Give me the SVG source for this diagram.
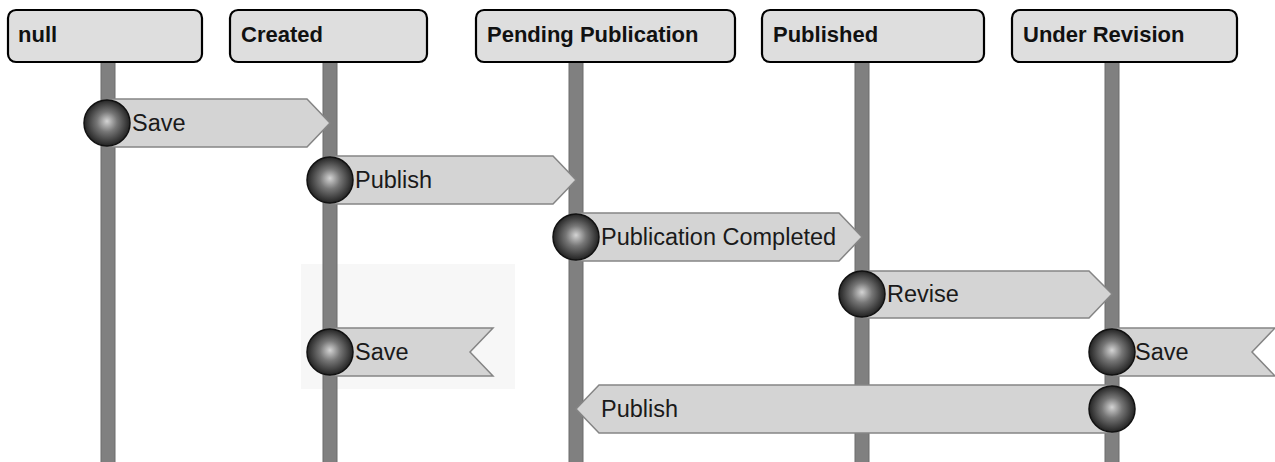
<svg xmlns="http://www.w3.org/2000/svg" width="1275" height="462" viewBox="0 0 1275 462">
<defs>
<radialGradient id="ballGrad" cx="0.5" cy="0.5" r="0.55" fx="0.5" fy="0.46">
<stop offset="0" stop-color="#d4d4d4"/>
<stop offset="0.4" stop-color="#767676"/>
<stop offset="1" stop-color="#151515"/>
</radialGradient>
<style>
.hdr{fill:#dedede;stroke:#000;stroke-width:2.2}
.hdrtxt{font-family:"Liberation Sans",Arial,sans-serif;font-weight:bold;font-size:22px;fill:#111}
.life{fill:#808080;stroke:#6c6c6c;stroke-width:1}
.msg{fill:#d4d4d4;stroke:#858585;stroke-width:1.5;stroke-linejoin:miter}
.lbl{font-family:"Liberation Sans",Arial,sans-serif;font-size:23.5px;fill:#1a1a1a}
.ball{fill:url(#ballGrad);stroke:#111;stroke-width:1.5}
</style>
</defs>
<rect width="1275" height="462" fill="#ffffff"/>
<rect x="301" y="264" width="214" height="125" fill="#f7f7f7"/>
<g id="node-null">
<rect class="life" x="101" y="62" width="14" height="402"/>
<rect class="hdr" x="8" y="10" width="194" height="52" rx="8"/>
<text class="hdrtxt" x="18" y="42">null</text>
</g>
<g id="node-created">
<rect class="life" x="323" y="62" width="14" height="402"/>
<rect class="hdr" x="230" y="10" width="197" height="52" rx="8"/>
<text class="hdrtxt" x="241" y="42">Created</text>
</g>
<g id="node-pending">
<rect class="life" x="569" y="62" width="14" height="402"/>
<rect class="hdr" x="476" y="10" width="259" height="52" rx="8"/>
<text class="hdrtxt" x="487" y="42">Pending Publication</text>
</g>
<g id="node-published">
<rect class="life" x="855" y="62" width="14" height="402"/>
<rect class="hdr" x="762" y="10" width="222" height="52" rx="8"/>
<text class="hdrtxt" x="773" y="42">Published</text>
</g>
<g id="node-underrevision">
<rect class="life" x="1105" y="62" width="14" height="402"/>
<rect class="hdr" x="1012" y="10" width="225" height="52" rx="8"/>
<text class="hdrtxt" x="1023" y="42">Under Revision</text>
</g>
<g id="connectors">
<g id="msg-save-1">
<path class="msg" d="M108,99 L307,99 L330,123 L307,147 L108,147 Z"/>
<circle class="ball" cx="107" cy="123" r="23"/>
<text class="lbl" x="132" y="131">Save</text>
</g>
<g id="msg-publish-1">
<path class="msg" d="M330,156 L553,156 L576,180 L553,204 L330,204 Z"/>
<circle class="ball" cx="330" cy="180" r="23"/>
<text class="lbl" x="355" y="188">Publish</text>
</g>
<g id="msg-pubcompleted">
<path class="msg" d="M576,213 L839,213 L862,237 L839,261 L576,261 Z"/>
<circle class="ball" cx="576" cy="237" r="23"/>
<text class="lbl" x="601" y="245">Publication Completed</text>
</g>
<g id="msg-revise">
<path class="msg" d="M862,271 L1089,271 L1112,294 L1089,318 L862,318 Z"/>
<circle class="ball" cx="862" cy="294" r="23"/>
<text class="lbl" x="887" y="302">Revise</text>
</g>
<g id="msg-save-created">
<path class="msg" d="M330,328 L493,328 L470,352 L493,376 L330,376 Z"/>
<circle class="ball" cx="330" cy="352" r="23"/>
<text class="lbl" x="355" y="360">Save</text>
</g>
<g id="msg-save-revision">
<path class="msg" d="M1112,328 L1275,328 L1252,352 L1275,376 L1112,376 Z"/>
<circle class="ball" cx="1112" cy="352" r="23"/>
<text class="lbl" x="1135" y="360">Save</text>
</g>
<g id="msg-publish-2">
<path class="msg" d="M1112,385 L599,385 L576,409 L599,433 L1112,433 Z"/>
<circle class="ball" cx="1112" cy="409" r="23"/>
<text class="lbl" x="601" y="417">Publish</text>
</g>
</g>
</svg>
